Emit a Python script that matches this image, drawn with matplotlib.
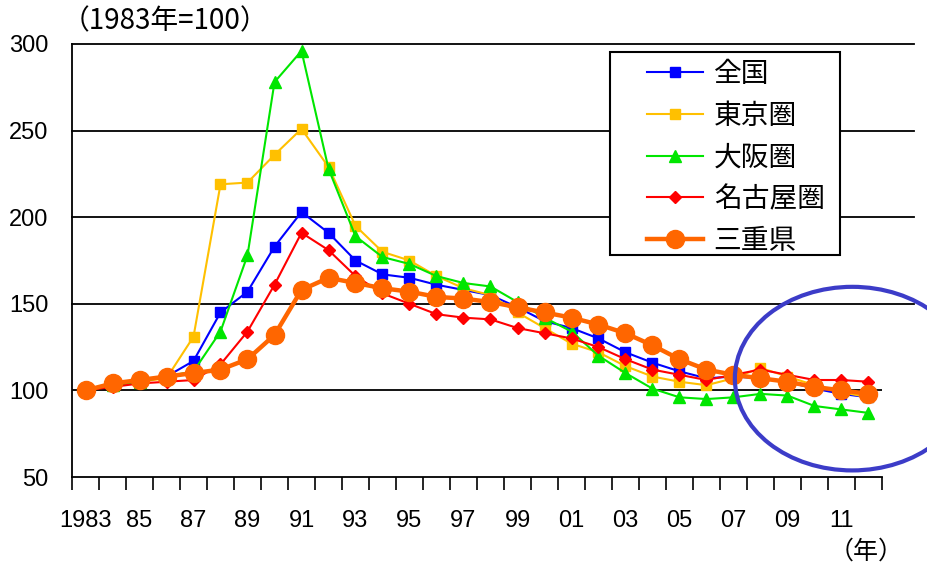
import matplotlib.pyplot as plt
import numpy as np
from matplotlib.patches import Ellipse, Rectangle

plt.rcParams['font.family'] = ['Liberation Sans', 'Noto Sans CJK JP', 'DejaVu Sans']

# Data (1983 = 100)
years = list(range(1983, 2013))
tick_labels = ['1983', '85', '87', '89', '91', '93', '95', '97', '99',
               '01', '03', '05', '07', '09', '11']

zenkoku = [100, 103, 105, 108, 117, 145, 157, 183, 203, 191, 175, 167, 165, 161, 158,
           155, 148, 140, 136, 130, 122, 116, 111, 107, 108, 107, 105, 101, 98, 96]
tokyo = [100, 103, 105, 107, 131, 219, 220, 236, 251, 229, 195, 180, 175, 166, 159,
         155, 145, 136, 127, 122, 114, 108, 105, 103, 107, 113, 108, 103, 99, 96]
osaka = [100, 103, 105, 108, 111, 134, 178, 278, 296, 228, 189, 177, 173, 166, 162,
         160, 151, 142, 134, 120, 110, 101, 96, 95, 96, 98, 97, 91, 89, 87]
nagoya = [100, 102, 104, 105, 106, 115, 134, 161, 191, 181, 166, 156, 150, 144, 142,
          141, 136, 133, 130, 125, 118, 112, 109, 106, 109, 112, 109, 106, 106, 105]
mie = [100, 104, 106, 108, 110, 112, 118, 132, 158, 165, 162, 159, 157, 154, 153,
       151, 148, 145, 142, 138, 133, 126, 118, 112, 109, 107, 105, 102, 100, 98]

x = np.arange(len(years))

fig = plt.figure(figsize=(9.28, 5.68), dpi=100)
ax = fig.add_axes([72 / 928, 1 - 477 / 568, 810 / 928, 433 / 568])

# gridlines
for v in [150, 200, 250, 300]:
    ax.axhline(v, xmin=0, xmax=1.04, color='black', lw=1.3, clip_on=False, zorder=1)
ax.axhline(100, color='black', lw=1.3, zorder=1)

ax.plot(x, zenkoku, color='#0000FF', lw=1.5, marker='s', ms=7, label='全国', zorder=3)
ax.plot(x, tokyo, color='#FFC000', lw=1.5, marker='s', ms=7, label='東京圏', zorder=3)
ax.plot(x, osaka, color='#00E600', lw=1.5, marker='^', ms=8, label='大阪圏', zorder=3)
ax.plot(x, nagoya, color='#FF0000', lw=1.5, marker='D', ms=6, label='名古屋圏', zorder=3)
ax.plot(x, mie, color='#FF6600', lw=3.2, marker='o', ms=13, label='三重県', zorder=4)

# highlight circle around recent years
ax.add_patch(Ellipse((28.4, 106.8), 8.7, 106, fill=False, edgecolor='#3C3CC8',
                     lw=3, clip_on=False, zorder=5))

ax.set_xlim(-0.5, len(years) - 0.5)
ax.set_ylim(50, 300)
ax.set_yticks([50, 100, 150, 200, 250, 300])
ax.set_yticklabels(['50', '100', '150', '200', '250', '300'])
ax.tick_params(axis='y', length=0, pad=17, labelsize=17)

ax.set_xticks(np.arange(-0.5, len(years), 1))
ax.set_xticklabels([])
ax.tick_params(axis='x', which='major', direction='out', length=9, width=1.2)
ax.set_xticks(np.arange(0, len(years), 2), minor=True)
ax.set_xticklabels(tick_labels, minor=True)
ax.tick_params(axis='x', which='minor', length=0, pad=24, labelsize=17)

for s in ['top', 'right']:
    ax.spines[s].set_visible(False)
ax.spines['left'].set_linewidth(1.3)
ax.spines['bottom'].set_linewidth(1.3)

cjk = ['Noto Sans CJK JP', 'DejaVu Sans']
fig.text(62 / 928, 1 - 21 / 568, '（1983年=100）', fontsize=20, va='center', ha='left',
         family=cjk)
fig.text(866 / 928, 1 - 552 / 568, '（年）', fontsize=18, va='center', ha='center',
         family=cjk)

# legend with its own square frame
ax.add_patch(Rectangle((610 / 928, 1 - 255 / 568), 230 / 928, 203 / 568,
                       transform=fig.transFigure, facecolor='white',
                       edgecolor='black', lw=1.5, clip_on=False, zorder=6))
leg = ax.legend(loc='upper left', bbox_to_anchor=(647 / 928, 1 - 59 / 568),
                bbox_transform=fig.transFigure, frameon=False,
                handlelength=2.0, labelspacing=0.42, borderpad=0, borderaxespad=0,
                handletextpad=0.4, prop={'family': cjk, 'size': 20})
leg.set_zorder(7)

plt.savefig('out.png', dpi=100)
